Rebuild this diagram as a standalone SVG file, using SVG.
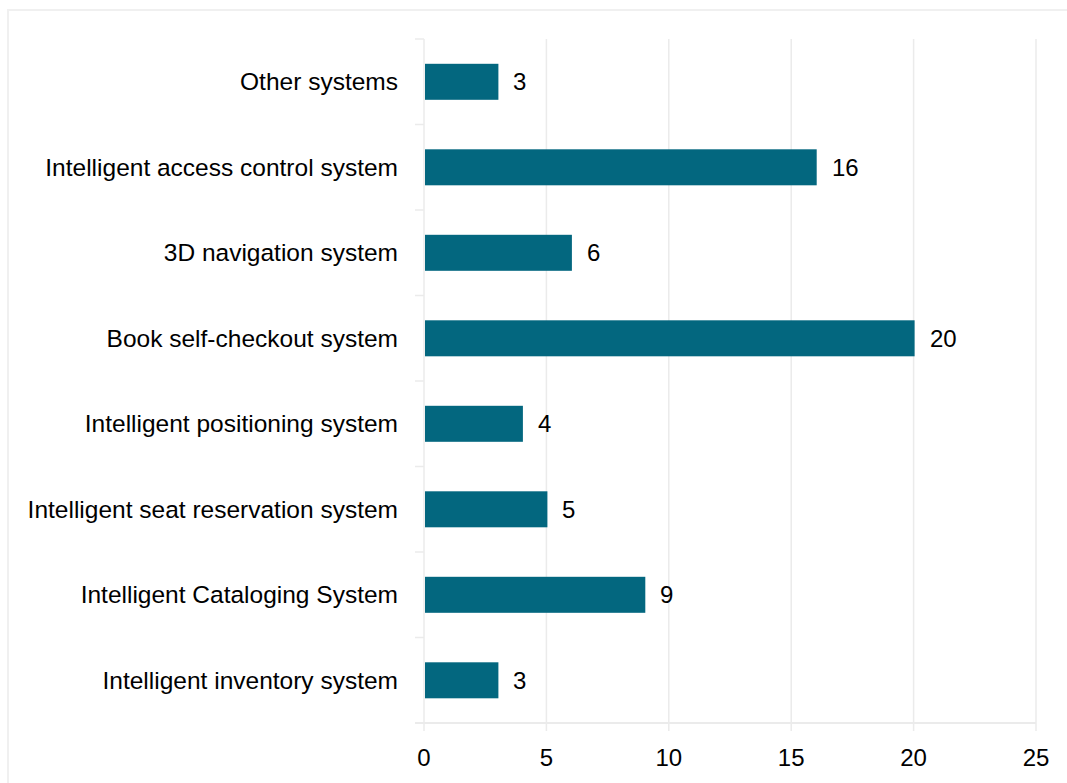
<svg xmlns="http://www.w3.org/2000/svg" width="1067" height="783" viewBox="0 0 1067 783">
<style>
.lbl{font-family:"Liberation Sans",Arial,sans-serif;font-size:24px;fill:#000}
.cat{text-anchor:end;font-size:24.5px}
.ax{text-anchor:middle}
.bar{fill:#03677F}
.grid{stroke:#EBEBEB;stroke-width:1.5;fill:none}
.axis{stroke:#EBEBEB;stroke-width:2;fill:none}
</style>
<rect x="0" y="0" width="1067" height="783" fill="#FFFFFF"/>
<rect x="8" y="10" width="1080" height="790" fill="none" stroke="#F0F0F0" stroke-width="2"/>
<g id="gridlines">
<path class="grid" d="M424,39V731M546.4,39V731M668.8,39V731M791.2,39V731M913.6,39V731M1036,39V731"/>
<path class="grid" d="M415,39H424M415,124.5H424M415,210H424M415,295.5H424M415,381H424M415,466.5H424M415,552H424M415,637.5H424"/>
<path class="axis" d="M415,723H1036"/>
</g>
<g id="x-axis-labels">
<text class="lbl ax" x="424" y="766">0</text>
<text class="lbl ax" x="546.4" y="766">5</text>
<text class="lbl ax" x="668.8" y="766">10</text>
<text class="lbl ax" x="791.2" y="766">15</text>
<text class="lbl ax" x="913.6" y="766">20</text>
<text class="lbl ax" x="1036" y="766">25</text>
</g>
<g id="bar-other">
<rect class="bar" x="425" y="63.8" width="73.4" height="36"/>
<text class="lbl cat" x="398" y="90">Other systems</text>
<text class="lbl" x="513" y="90">3</text>
</g>
<g id="bar-access">
<rect class="bar" x="425" y="149.3" width="391.7" height="36"/>
<text class="lbl cat" x="398" y="175.5">Intelligent access control system</text>
<text class="lbl" x="832" y="175.5">16</text>
</g>
<g id="bar-3d">
<rect class="bar" x="425" y="234.8" width="146.9" height="36"/>
<text class="lbl cat" x="398" y="261">3D navigation system</text>
<text class="lbl" x="587" y="261">6</text>
</g>
<g id="bar-checkout">
<rect class="bar" x="425" y="320.3" width="489.6" height="36"/>
<text class="lbl cat" x="398" y="346.5">Book self-checkout system</text>
<text class="lbl" x="930" y="346.5">20</text>
</g>
<g id="bar-positioning">
<rect class="bar" x="425" y="405.8" width="97.9" height="36"/>
<text class="lbl cat" x="398" y="432">Intelligent positioning system</text>
<text class="lbl" x="538" y="432">4</text>
</g>
<g id="bar-seat">
<rect class="bar" x="425" y="491.3" width="122.4" height="36"/>
<text class="lbl cat" x="398" y="517.5">Intelligent seat reservation system</text>
<text class="lbl" x="562" y="517.5">5</text>
</g>
<g id="bar-cataloging">
<rect class="bar" x="425" y="576.8" width="220.3" height="36"/>
<text class="lbl cat" x="398" y="603">Intelligent Cataloging System</text>
<text class="lbl" x="660" y="603">9</text>
</g>
<g id="bar-inventory">
<rect class="bar" x="425" y="662.3" width="73.4" height="36"/>
<text class="lbl cat" x="398" y="688.5">Intelligent inventory system</text>
<text class="lbl" x="513" y="688.5">3</text>
</g>
</svg>
